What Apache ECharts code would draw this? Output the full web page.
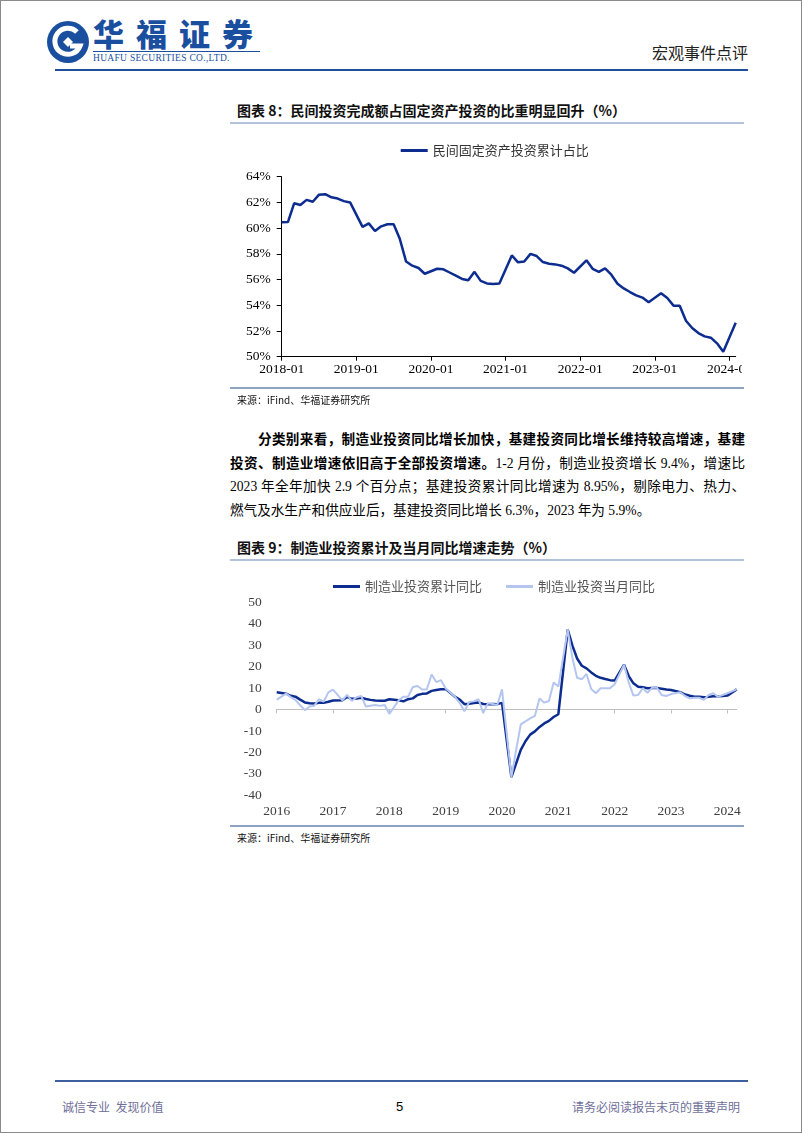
<!DOCTYPE html>
<html>
<head>
<meta charset="utf-8">
<script src="https://cdn.jsdelivr.net/npm/echarts@6/dist/echarts.min.js"></script>
<style>
html,body{margin:0;padding:0;background:#fff;}
body{width:802px;height:1133px;position:relative;overflow:hidden;font-family:"Liberation Serif","Noto Sans CJK SC",serif;color:#000;}
.abs{position:absolute;}
.frame{left:0;top:0;width:800px;height:1131px;border:1px solid #8a8a8a;}
.title{font-family:"Noto Sans CJK SC",sans-serif;font-weight:bold;font-size:14px;line-height:18px;white-space:nowrap;color:#111;}
.uline{background:#b3c2d8;height:2px;}
.bline{background:#8ea2c4;height:2px;}
.src{font-family:"Noto Sans CJK SC",sans-serif;font-size:10px;line-height:12px;color:#111;white-space:nowrap;}
.para div{position:absolute;left:0;width:515px;font-size:13.6px;line-height:20px;}
.just{text-align:justify;text-align-last:justify;}
.b{font-weight:bold;}
</style>
</head>
<body>
<div class="abs frame"></div>

<!-- header -->
<svg class="abs" style="left:46px;top:20px" width="44" height="44" viewBox="0 0 44 44">
  <circle cx="22" cy="22" r="21" fill="#1a4f9f"/>
  <path d="M31 12 A13 13 0 1 0 34 26 L24 26" fill="none" stroke="#fff" stroke-width="5"/>
  <path d="M22 17 L27 22 L22 27 L17 22 Z" fill="#fff"/>
</svg>
<div class="abs" style="left:93px;top:17px;font-family:'Noto Sans CJK SC';font-weight:900;font-size:31px;line-height:32px;color:#1a4f9f;letter-spacing:12px;white-space:nowrap;">华福证券</div>
<div class="abs" style="left:93px;top:51px;width:167px;height:1px;background:#1a4f9f;"></div>
<div class="abs" style="left:93px;top:53px;font-family:'Liberation Serif';font-size:9.5px;line-height:10px;color:#1a4f9f;white-space:nowrap;letter-spacing:0.3px;">HUAFU SECURITIES CO.,LTD.</div>
<div class="abs" style="right:54px;top:42px;font-family:'Noto Sans CJK SC';font-size:16px;line-height:20px;color:#222;white-space:nowrap;">宏观事件点评</div>
<div class="abs" style="left:55px;top:69px;width:693px;height:2px;background:#1f4f9c;"></div>

<!-- figure 8 -->
<div class="abs title" style="left:237px;top:101px;">图表 8：民间投资完成额占固定资产投资的比重明显回升（%）</div>
<div class="abs uline" style="left:230px;top:122px;width:514px;"></div>
<div class="abs" style="left:230px;top:130px;width:512px;height:258px;overflow:hidden;">
  <div id="c1" style="position:absolute;left:0;top:0;width:570px;height:258px;"></div>
</div>
<div class="abs bline" style="left:230px;top:387px;width:514px;"></div>
<div class="abs src" style="left:237px;top:394px;">来源：iFind、华福证券研究所</div>

<!-- paragraph -->
<div class="abs para" style="left:230px;top:430px;width:515px;height:100px;">
  <div class="just b" style="top:0;left:28px;width:487px;">分类别来看，制造业投资同比增长加快，基建投资同比增长维持较高增速，基建</div>
  <div class="just" style="top:23.5px;"><span class="b">投资、制造业增速依旧高于全部投资增速。</span>1-2 月份，制造业投资增长 9.4%，增速比</div>
  <div class="just" style="top:47px;">2023 年全年加快 2.9 个百分点；基建投资累计同比增速为 8.95%，剔除电力、热力、</div>
  <div style="top:70.5px;white-space:nowrap;">燃气及水生产和供应业后，基建投资同比增长 6.3%，2023 年为 5.9%。</div>
</div>

<!-- figure 9 -->
<div class="abs title" style="left:237px;top:538px;">图表 9：制造业投资累计及当月同比增速走势（%）</div>
<div class="abs uline" style="left:230px;top:559px;width:514px;"></div>
<div id="c2" class="abs" style="left:230px;top:562px;width:520px;height:262px;"></div>
<div class="abs bline" style="left:230px;top:825px;width:514px;"></div>
<div class="abs src" style="left:237px;top:832px;">来源：iFind、华福证券研究所</div>

<!-- footer -->
<div class="abs" style="left:55px;top:1080px;width:693px;height:2px;background:#3d5f9e;"></div>
<div class="abs" style="left:62px;top:1099px;font-family:'Noto Sans CJK SC';font-size:12px;line-height:16px;color:#6f6f9a;white-space:nowrap;">诚信专业&nbsp;&nbsp;发现价值</div>
<div class="abs" style="left:396px;top:1099px;font-family:'Liberation Sans';font-size:13px;line-height:16px;color:#000;">5</div>
<div class="abs" style="right:62px;top:1099px;font-family:'Noto Sans CJK SC';font-size:12px;line-height:16px;color:#6f6f9a;white-space:nowrap;">请务必阅读报告末页的重要声明</div>

<script>
// ---------- Figure 8 data ----------
const privCats = [
  '2018-01','2018-02','2018-03','2018-04','2018-05','2018-06','2018-07','2018-08','2018-09','2018-10','2018-11','2018-12',
  '2019-01','2019-02','2019-03','2019-04','2019-05','2019-06','2019-07','2019-08','2019-09','2019-10','2019-11','2019-12',
  '2020-01','2020-02','2020-03','2020-04','2020-05','2020-06','2020-07','2020-08','2020-09','2020-10','2020-11','2020-12',
  '2021-01','2021-02','2021-03','2021-04','2021-05','2021-06','2021-07','2021-08','2021-09','2021-10','2021-11','2021-12',
  '2022-01','2022-02','2022-03','2022-04','2022-05','2022-06','2022-07','2022-08','2022-09','2022-10','2022-11','2022-12',
  '2023-01','2023-02','2023-03','2023-04','2023-05','2023-06','2023-07','2023-08','2023-09','2023-10','2023-11','2023-12',
  '2024-01','2024-02'
];
const privShare = [
  60.45, 60.47, 61.93, 61.8, 62.2, 62.05, 62.6, 62.64, 62.4, 62.3, 62.1, 62.0,
  null, 60.1, 60.37, 59.77, 60.14, 60.3, 60.3, 59.15, 57.4, 57.08, 56.9, 56.45,
  null, 56.84, 56.8, 56.55, 56.3, 56.05, 55.95, 56.6, 55.9, 55.7, 55.66, 55.7,
  null, 57.88, 57.34, 57.4, 58.0, 57.83, 57.36, 57.23, 57.18, 57.08, 56.87, 56.53,
  null, 57.5, 56.84, 56.6, 56.87, 56.38, 55.68, 55.31, 55.03, 54.77, 54.6, 54.23,
  null, 54.93, 54.56, 53.97, 53.97, 52.8, 52.23, 51.84, 51.58, 51.48, 51.04, 50.39,
  null, 52.64
];
const privSeriesName = '民间固定资产投资累计占比';

// ---------- Figure 9 data (month-end observations) ----------
const mfgCats = [
  '2015-12',
  '2016-01','2016-02','2016-03','2016-04','2016-05','2016-06','2016-07','2016-08','2016-09','2016-10','2016-11','2016-12',
  '2017-01','2017-02','2017-03','2017-04','2017-05','2017-06','2017-07','2017-08','2017-09','2017-10','2017-11','2017-12',
  '2018-01','2018-02','2018-03','2018-04','2018-05','2018-06','2018-07','2018-08','2018-09','2018-10','2018-11','2018-12',
  '2019-01','2019-02','2019-03','2019-04','2019-05','2019-06','2019-07','2019-08','2019-09','2019-10','2019-11','2019-12',
  '2020-01','2020-02','2020-03','2020-04','2020-05','2020-06','2020-07','2020-08','2020-09','2020-10','2020-11','2020-12',
  '2021-01','2021-02','2021-03','2021-04','2021-05','2021-06','2021-07','2021-08','2021-09','2021-10','2021-11','2021-12',
  '2022-01','2022-02','2022-03','2022-04','2022-05','2022-06','2022-07','2022-08','2022-09','2022-10','2022-11','2022-12',
  '2023-01','2023-02','2023-03','2023-04','2023-05','2023-06','2023-07','2023-08','2023-09','2023-10','2023-11','2023-12',
  '2024-01','2024-02'
];
const mfgCumYoY = [
  8.1,
  null, 7.4, 6.4, 6.0, 4.6, 3.3, 2.9, 2.8, 3.1, 3.1, 3.6, 4.2,
  null, 4.3, 5.8, 5.0, 5.1, 5.5, 4.9, 4.5, 4.2, 4.1, 4.1, 4.8,
  null, 4.3, 3.8, 4.8, 5.2, 6.8, 7.3, 7.5, 8.7, 9.1, 9.5, 9.5,
  null, 5.9, 4.6, 2.5, 2.7, 3.0, 3.3, 2.6, 2.5, 2.6, 2.5, 3.1,
  null, -31.5, -25.2, -18.8, -14.8, -11.7, -10.2, -8.1, -6.5, -5.3, -3.5, -2.2,
  null, 37.3, 29.8, 23.8, 20.4, 19.2, 17.3, 15.7, 14.8, 14.2, 13.7, 13.5,
  null, 20.9, 15.6, 12.2, 10.6, 10.4, 9.9, 10.0, 10.1, 9.7, 9.3, 9.1,
  null, 8.1, 7.0, 6.4, 6.0, 6.0, 5.7, 5.9, 6.2, 6.2, 6.3, 6.5,
  null, 9.4
];
const mfgMonthYoY = [
  4.6,
  null, 7.4, 5.8, 4.5, 2.0, -0.3, 1.4, 1.8, 4.8, 3.7, 8.0, 9.3,
  null, 4.3, 6.8, 4.0, 5.7, 6.3, 1.4, 1.8, 2.1, 1.7, 2.1, -2.0,
  null, 4.3, 6.0, 6.0, 10.5, 11.0, 9.3, 9.5, 16.3, 12.8, 13.7, 9.8,
  null, 5.9, 3.0, -0.8, 3.5, 3.8, 4.8, -1.7, 2.9, 2.6, 2.1, 9.4,
  null, -31.5, -19.0, -6.9, -5.5, -4.1, -3.0, 5.2, 3.2, 4.0, 12.6, 10.7,
  null, 37.3, 24.0, 14.8, 14.1, 16.6, 9.6, 7.6, 9.9, 9.9, 9.9, 11.8,
  null, 20.9, 12.5, 6.5, 6.8, 9.9, 7.8, 10.2, 10.3, 6.8, 6.3, 7.2,
  null, 8.1, 6.3, 5.2, 5.5, 5.5, 4.5, 6.8, 7.6, 6.0, 6.8, 7.6,
  null, 9.4
];
const mfgYearLabels = ['2016','2017','2018','2019','2020','2021','2022','2023','2024'];
const mfgSeriesNames = ['制造业投资累计同比','制造业投资当月同比'];

const DARK = '#0c2c8f';
const LIGHT = '#b4c6f0';
const serif = 'Liberation Serif';
const cjk = 'Noto Sans CJK SC';

// ---------- chart 1 ----------
const c1 = echarts.init(document.getElementById('c1'), null, {renderer:'canvas'});
c1.setOption({
  animation:false,
  grid:{left:51.7, right:64.3, top:46.7, bottom:31.3},
  legend:{data:[privSeriesName], left:165.7, top:9, icon:'rect', itemWidth:27, itemHeight:3, itemGap:24,
    textStyle:{fontFamily:cjk, fontSize:13, color:'#333'}},
  xAxis:{type:'category', data:privCats, boundaryGap:false,
    axisLine:{lineStyle:{color:'#000', width:1}},
    axisTick:{show:true, interval:11, length:4, lineStyle:{color:'#000'}},
    axisLabel:{interval:11, margin:6, color:'#000', fontFamily:serif, fontSize:13.5}},
  yAxis:{type:'value', min:50, max:64, interval:2,
    axisLine:{show:true, lineStyle:{color:'#000'}},
    axisTick:{show:true, length:5, lineStyle:{color:'#000'}},
    splitLine:{show:false},
    axisLabel:{formatter:'{value}%', margin:11, color:'#000', fontFamily:serif, fontSize:13.5}},
  series:[{name:privSeriesName, type:'line', data:privShare, symbol:'none', connectNulls:true,
    lineStyle:{color:DARK, width:2.5}, itemStyle:{color:DARK}}]
});

// ---------- chart 2 ----------
const c2 = echarts.init(document.getElementById('c2'), null, {renderer:'canvas'});
c2.setOption({
  animation:false,
  grid:{left:46.7, right:13.3, top:40.3, bottom:28.7},
  legend:{data:mfgSeriesNames, left:98, top:13, icon:'rect', itemWidth:27, itemHeight:3, itemGap:24,
    textStyle:{fontFamily:cjk, fontSize:13, color:'#555'}},
  xAxis:[
    {type:'category', data:mfgCats, boundaryGap:false, position:'bottom',
      axisLine:{show:false, onZero:false}, axisTick:{show:false},
      axisLabel:{interval:11, margin:9, color:'#404040', fontFamily:serif, fontSize:13.5,
        formatter:(v, idx) => mfgYearLabels[Math.round(idx/12)]}},
    {type:'category', data:mfgCats, boundaryGap:false, position:'top',
      axisLine:{show:true, onZero:true, lineStyle:{color:'#bfbfbf', width:1}},
      axisTick:{show:true, inside:true, interval:11, length:4, lineStyle:{color:'#bfbfbf'}},
      axisLabel:{show:false}}
  ],
  yAxis:{type:'value', min:-40, max:50, interval:10,
    axisLine:{show:false}, axisTick:{show:false}, splitLine:{show:false},
    axisLabel:{margin:15, color:'#404040', fontFamily:serif, fontSize:13.5}},
  series:[
    {name:mfgSeriesNames[0], type:'line', data:mfgCumYoY, symbol:'none', connectNulls:true,
      lineStyle:{color:DARK, width:2.5}, itemStyle:{color:DARK}},
    {name:mfgSeriesNames[1], type:'line', data:mfgMonthYoY, symbol:'none', connectNulls:true,
      lineStyle:{color:LIGHT, width:2}, itemStyle:{color:LIGHT}}
  ]
});
</script>
</body>
</html>
